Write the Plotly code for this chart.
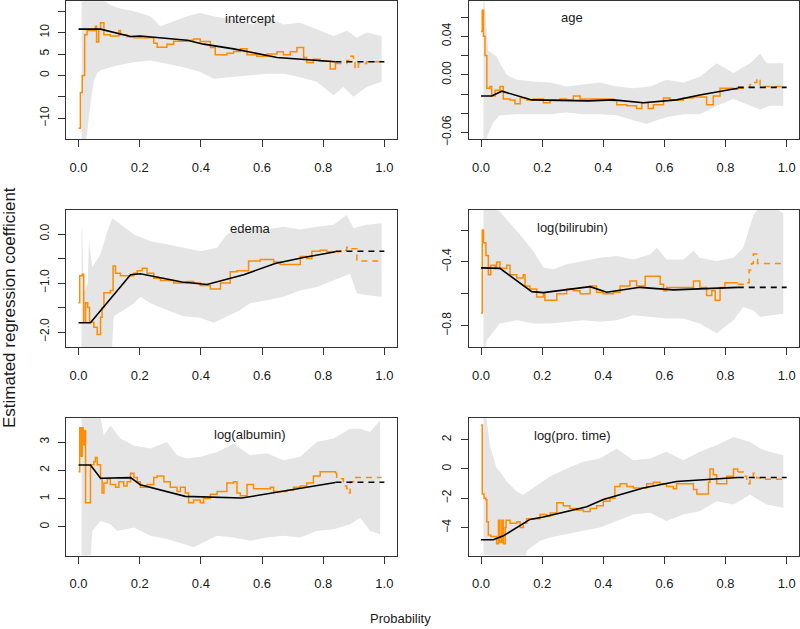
import plotly.graph_objects as go

# ---------------- data ----------------
panels = ["intercept", "age", "edema", "log(bilirubin)", "log(albumin)", "log(pro. time)"]

# intercept
int_up_x = [0.010, 0.072, 0.104, 0.126, 0.181, 0.235, 0.268, 0.311, 0.355, 0.398, 0.442, 0.507, 0.572, 0.616, 0.670, 0.725, 0.779, 0.834, 0.877, 0.910, 0.942, 0.991]
int_up = [20, 18, 16.5, 15.8, 15.0, 13.8, 11.5, 12.7, 13.8, 14.6, 13.8, 13.0, 11.9, 13.5, 11.9, 12.3, 10.8, 9.2, 10.4, 8.8, 10.0, 9.2]
int_lo_x = [0.010, 0.017, 0.028, 0.040, 0.050, 0.061, 0.072, 0.126, 0.181, 0.235, 0.289, 0.344, 0.398, 0.442, 0.507, 0.561, 0.616, 0.670, 0.725, 0.779, 0.834, 0.866, 0.899, 0.942, 0.991]
int_lo = [-20, -17, -13.5, -6, -1.2, 0.5, 1.2, 2.3, 3.1, 3.5, 2.7, 1.9, 0.8, -0.8, -0.4, 0, 0.4, 0.4, -0.4, -1.5, -4.6, -2.7, -5.0, -2.7, -1.5]
int_or_x = [0.000, 0.006, 0.012, 0.020, 0.028, 0.055, 0.059, 0.066, 0.072, 0.083, 0.104, 0.132, 0.137, 0.159, 0.181, 0.202, 0.246, 0.257, 0.289, 0.311, 0.355, 0.376, 0.398, 0.431, 0.447, 0.485, 0.507, 0.529, 0.551, 0.583, 0.616, 0.649, 0.670, 0.692, 0.714, 0.736, 0.746, 0.768, 0.790, 0.823, 0.840]
int_or = [-12.3, -4, 0, 9.5, 10.5, 11.5, 7.8, 10.7, 12.3, 9.5, 9.2, 10.5, 9.5, 9.0, 8.8, 8.8, 7.5, 6.6, 7.3, 8.0, 8.2, 8.5, 7.9, 6.5, 4.8, 5.2, 5.6, 6.2, 4.8, 4.5, 5.0, 5.5, 4.8, 5.5, 6.5, 4.2, 3.0, 3.8, 3.3, 1.5, 3.0]
int_ord_x = [0.840, 0.877, 0.888, 0.899, 0.904, 0.915, 0.942, 0.991]
int_ord = [2.8, 3.5, 4.5, 3.0, 1.5, 2.8, 3.2, 3.2]
int_bk_x = [0, 0.072, 0.170, 0.202, 0.355, 0.409, 0.507, 0.649, 0.840]
int_bk = [10.8, 10.8, 9.1, 9.2, 8.2, 7.3, 6.2, 4.2, 3.2]
int_bkd_x = [0.84, 1.0]
int_bkd = [3.2, 3.2]

# age
age_up_x = [0.008, 0.024, 0.051, 0.062, 0.084, 0.117, 0.171, 0.226, 0.280, 0.335, 0.389, 0.444, 0.498, 0.553, 0.607, 0.662, 0.716, 0.771, 0.826, 0.880, 0.913, 0.935, 0.989]
age_up = [0.09, 0.025, 0.019, 0.012, 0.0, -0.005, -0.007, -0.008, -0.012, -0.010, -0.008, -0.012, -0.014, -0.012, -0.005, -0.008, -0.002, 0.012, 0.002, 0.012, 0.022, 0.012, 0.012]
age_lo_x = [0.008, 0.021, 0.040, 0.062, 0.117, 0.171, 0.226, 0.280, 0.335, 0.389, 0.444, 0.498, 0.542, 0.575, 0.607, 0.662, 0.716, 0.771, 0.826, 0.880, 0.913, 0.945, 0.989]
age_lo = [-0.09, -0.063, -0.049, -0.042, -0.041, -0.041, -0.041, -0.039, -0.041, -0.041, -0.042, -0.047, -0.051, -0.047, -0.044, -0.041, -0.041, -0.032, -0.025, -0.032, -0.036, -0.032, -0.032]
age_or_x = [0.000, 0.004, 0.008, 0.013, 0.019, 0.029, 0.035, 0.046, 0.062, 0.073, 0.095, 0.111, 0.128, 0.149, 0.171, 0.204, 0.226, 0.258, 0.280, 0.302, 0.324, 0.346, 0.389, 0.433, 0.444, 0.477, 0.509, 0.526, 0.547, 0.564, 0.597, 0.618, 0.662, 0.695, 0.738, 0.760, 0.782, 0.826, 0.840]
age_or = [0.045, 0.067, 0.04, 0.02, -0.014, -0.012, -0.022, -0.016, -0.012, -0.025, -0.026, -0.030, -0.024, -0.026, -0.025, -0.029, -0.026, -0.025, -0.026, -0.022, -0.025, -0.025, -0.025, -0.027, -0.031, -0.032, -0.035, -0.029, -0.035, -0.031, -0.024, -0.026, -0.024, -0.023, -0.031, -0.022, -0.014, -0.015, -0.014]
age_ord_x = [0.840, 0.858, 0.880, 0.891, 0.902, 0.913, 0.989]
age_ord = [-0.014, -0.013, -0.010, -0.008, -0.004, -0.012, -0.012]
age_bk_x = [0, 0.035, 0.068, 0.166, 0.351, 0.433, 0.531, 0.640, 0.716, 0.840]
age_bk = [-0.022, -0.022, -0.017, -0.026, -0.027, -0.026, -0.029, -0.026, -0.021, -0.014]
age_bkd_x = [0.84, 1.0]
age_bkd = [-0.013, -0.013]

# edema
ede_up_x = [0.010, 0.012, 0.017, 0.030, 0.034, 0.045, 0.072, 0.094, 0.110, 0.126, 0.181, 0.235, 0.289, 0.344, 0.398, 0.453, 0.485, 0.507, 0.561, 0.616, 0.670, 0.725, 0.779, 0.834, 0.877, 0.899, 0.942, 0.991]
ede_up = [0.12, 0.12, -1.2, -1.0, -0.15, -0.68, -0.41, 0.05, 0.32, 0.25, -0.01, -0.15, -0.21, -0.28, -0.35, -0.28, -0.01, 0.05, 0.12, 0.09, 0.15, 0.09, 0.15, 0.19, 0.39, 0.12, 0.19, 0.22]
ede_lo_x = [0.010, 0.104, 0.115, 0.148, 0.181, 0.202, 0.235, 0.289, 0.344, 0.398, 0.442, 0.485, 0.529, 0.561, 0.616, 0.670, 0.725, 0.779, 0.834, 0.888, 0.910, 0.942, 0.991]
ede_lo = [-3, -3, -1.68, -1.55, -1.41, -1.28, -1.41, -1.55, -1.68, -1.71, -1.81, -1.68, -1.55, -1.41, -1.35, -1.28, -1.15, -1.08, -0.95, -0.81, -1.21, -1.25, -1.28]
ede_or_x = [0.000, 0.004, 0.012, 0.017, 0.023, 0.030, 0.036, 0.050, 0.061, 0.072, 0.077, 0.083, 0.104, 0.113, 0.121, 0.137, 0.159, 0.181, 0.192, 0.208, 0.224, 0.246, 0.268, 0.289, 0.311, 0.355, 0.376, 0.398, 0.431, 0.464, 0.496, 0.518, 0.556, 0.594, 0.638, 0.659, 0.703, 0.725, 0.746, 0.763, 0.790, 0.812, 0.840]
ede_or = [-1.4, -0.85, -0.82, -1.8, -1.4, -1.5, -1.8, -1.9, -2.05, -1.7, -1.5, -1.2, -1.15, -0.65, -0.8, -0.85, -0.85, -0.8, -0.75, -0.7, -0.8, -0.9, -0.95, -0.95, -1.0, -0.97, -1.0, -1.05, -1.12, -1.0, -0.77, -0.75, -0.55, -0.52, -0.57, -0.62, -0.62, -0.46, -0.5, -0.35, -0.33, -0.36, -0.36]
ede_ord_x = [0.840, 0.855, 0.877, 0.893, 0.910, 0.991]
ede_ord = [-0.36, -0.33, -0.27, -0.30, -0.55, -0.55]
ede_bk_x = [0, 0.039, 0.170, 0.202, 0.338, 0.420, 0.540, 0.643, 0.736, 0.840]
ede_bk = [-1.81, -1.81, -0.83, -0.81, -0.98, -1.03, -0.83, -0.60, -0.48, -0.36]
ede_bkd_x = [0.84, 1.0]
ede_bkd = [-0.35, -0.35]

# log(bilirubin)
bil_up_x = [0.008, 0.062, 0.095, 0.128, 0.171, 0.204, 0.237, 0.280, 0.335, 0.389, 0.444, 0.498, 0.553, 0.575, 0.607, 0.662, 0.695, 0.716, 0.771, 0.826, 0.858, 0.891, 0.924, 0.989]
bil_up = [-0.02, -0.085, -0.157, -0.229, -0.332, -0.435, -0.445, -0.414, -0.394, -0.373, -0.363, -0.384, -0.353, -0.311, -0.384, -0.384, -0.332, -0.373, -0.394, -0.373, -0.311, -0.105, -0.02, -0.095]
bil_lo_x = [0.008, 0.019, 0.062, 0.117, 0.171, 0.226, 0.280, 0.335, 0.389, 0.444, 0.498, 0.553, 0.607, 0.662, 0.716, 0.771, 0.826, 0.858, 0.891, 0.913, 0.989]
bil_lo = [-1.0, -0.89, -0.786, -0.765, -0.786, -0.786, -0.775, -0.765, -0.775, -0.765, -0.734, -0.744, -0.755, -0.755, -0.786, -0.847, -0.765, -0.682, -0.703, -0.744, -0.724]
bil_or_x = [0.000, 0.004, 0.008, 0.016, 0.024, 0.032, 0.046, 0.051, 0.062, 0.084, 0.095, 0.117, 0.138, 0.144, 0.160, 0.182, 0.204, 0.209, 0.248, 0.280, 0.302, 0.324, 0.357, 0.378, 0.400, 0.433, 0.455, 0.487, 0.509, 0.537, 0.586, 0.597, 0.607, 0.662, 0.695, 0.716, 0.738, 0.755, 0.766, 0.782, 0.798, 0.840]
bil_or = [-0.72, -0.20, -0.28, -0.36, -0.48, -0.42, -0.44, -0.40, -0.44, -0.42, -0.48, -0.50, -0.48, -0.55, -0.57, -0.62, -0.60, -0.64, -0.60, -0.57, -0.58, -0.60, -0.55, -0.59, -0.60, -0.59, -0.55, -0.52, -0.55, -0.49, -0.54, -0.58, -0.56, -0.56, -0.52, -0.56, -0.61, -0.58, -0.64, -0.56, -0.53, -0.53]
bil_ord_x = [0.840, 0.869, 0.877, 0.885, 0.891, 0.905, 0.989]
bil_ord = [-0.54, -0.53, -0.45, -0.41, -0.35, -0.41, -0.41]
bil_bk_x = [0, 0.062, 0.166, 0.204, 0.357, 0.411, 0.520, 0.629, 0.840]
bil_bk = [-0.437, -0.44, -0.586, -0.592, -0.555, -0.59, -0.559, -0.575, -0.559]
bil_bkd_x = [0.84, 1.0]
bil_bkd = [-0.559, -0.559]

# log(albumin)
alb_up_x = [0.010, 0.072, 0.083, 0.104, 0.137, 0.181, 0.235, 0.289, 0.322, 0.355, 0.398, 0.453, 0.507, 0.561, 0.616, 0.670, 0.725, 0.779, 0.834, 0.888, 0.921, 0.953, 0.986]
alb_up = [5, 3.87, 3.23, 3.58, 3.12, 2.88, 2.77, 3.0, 2.53, 2.42, 2.48, 2.65, 2.94, 2.53, 2.6, 2.36, 2.48, 3.0, 3.12, 3.47, 3.47, 3.35, 3.76]
alb_lo_x = [0.010, 0.034, 0.045, 0.072, 0.104, 0.126, 0.181, 0.235, 0.289, 0.344, 0.376, 0.398, 0.453, 0.507, 0.561, 0.616, 0.670, 0.725, 0.779, 0.834, 0.888, 0.921, 0.953, 0.986]
alb_lo = [-2, -2, -0.14, 0.21, 0.09, -0.14, -0.02, -0.31, -0.43, -0.6, -0.72, -0.6, -0.31, -0.37, -0.49, -0.37, -0.31, -0.37, -0.14, -0.08, 0.09, 0.33, -0.14, -0.26]
alb_or_x = [0.000, 0.004, 0.009, 0.012, 0.015, 0.020, 0.023, 0.039, 0.050, 0.055, 0.061, 0.072, 0.077, 0.083, 0.094, 0.104, 0.121, 0.132, 0.148, 0.159, 0.170, 0.181, 0.192, 0.202, 0.224, 0.246, 0.257, 0.279, 0.300, 0.322, 0.333, 0.349, 0.360, 0.376, 0.398, 0.409, 0.431, 0.453, 0.485, 0.507, 0.518, 0.529, 0.551, 0.572, 0.605, 0.627, 0.638, 0.681, 0.703, 0.725, 0.746, 0.768, 0.790, 0.840]
alb_or = [1.95, 3.5, 2.5, 3.5, 2.9, 3.4, 0.85, 2.2, 2.3, 2.45, 2.2, 1.7, 1.2, 1.55, 1.7, 1.5, 1.4, 1.6, 1.45, 1.6, 1.9, 1.75, 1.6, 1.4, 1.5, 1.75, 1.8, 1.6, 1.4, 1.25, 1.4, 1.2, 0.85, 0.95, 0.85, 1.0, 1.15, 1.25, 1.55, 1.6, 1.2, 1.1, 1.5, 1.35, 1.35, 1.4, 1.25, 1.3, 1.4, 1.45, 1.55, 1.8, 1.95, 1.9]
alb_ord_x = [0.840, 0.844, 0.866, 0.877, 0.882, 0.888, 0.899, 0.991]
alb_ord = [1.9, 1.7, 1.45, 1.35, 1.2, 1.6, 1.75, 1.75]
alb_bk_x = [0, 0.039, 0.072, 0.170, 0.202, 0.349, 0.534, 0.840]
alb_bk = [2.19, 2.19, 1.72, 1.74, 1.49, 1.08, 1.02, 1.57]
alb_bkd_x = [0.84, 1.0]
alb_bkd = [1.58, 1.58]

# log(pro. time)
pro_up_x = [0.008, 0.029, 0.051, 0.062, 0.084, 0.117, 0.138, 0.171, 0.226, 0.280, 0.335, 0.389, 0.444, 0.498, 0.553, 0.607, 0.662, 0.716, 0.771, 0.826, 0.880, 0.913, 0.945, 0.989]
pro_up = [5, 1.62, 0.04, -0.18, -0.85, -1.53, -1.75, -1.3, -0.52, 0.04, 0.49, 0.72, 1.39, 0.6, 0.72, 1.17, 0.6, 1.17, 1.62, 2.18, 1.84, 1.39, 1.17, 0.94]
pro_lo_x = [0.008, 0.138, 0.149, 0.193, 0.226, 0.280, 0.335, 0.389, 0.444, 0.498, 0.553, 0.607, 0.662, 0.716, 0.771, 0.826, 0.880, 0.935, 0.989]
pro_lo = [-8, -8, -5.57, -4.9, -4.67, -4.45, -4.22, -4.0, -3.55, -3.1, -2.99, -3.55, -3.1, -2.88, -2.2, -2.43, -1.75, -2.43, -2.65]
pro_or_x = [0.000, 0.004, 0.010, 0.016, 0.019, 0.024, 0.032, 0.040, 0.051, 0.057, 0.062, 0.068, 0.073, 0.079, 0.082, 0.095, 0.117, 0.128, 0.138, 0.149, 0.171, 0.193, 0.215, 0.226, 0.248, 0.269, 0.291, 0.313, 0.335, 0.357, 0.378, 0.400, 0.422, 0.438, 0.455, 0.477, 0.498, 0.520, 0.542, 0.564, 0.586, 0.607, 0.629, 0.640, 0.684, 0.695, 0.706, 0.727, 0.744, 0.749, 0.760, 0.771, 0.793, 0.804, 0.826, 0.840]
pro_or = [3.0, -1.7, -2.0, -2.1, -3.6, -4.5, -4.6, -4.6, -5.1, -3.5, -5.0, -3.5, -5.1, -4.0, -3.5, -3.7, -3.6, -4.0, -3.7, -3.4, -3.4, -3.1, -3.2, -3.0, -2.3, -2.5, -2.7, -2.8, -2.9, -2.7, -2.5, -2.2, -2.0, -1.2, -1.0, -1.2, -1.3, -1.3, -1.0, -0.9, -1.0, -1.2, -1.35, -1.0, -1.0, -1.4, -1.7, -1.7, -0.9, 0.0, -0.4, -1.0, -1.0, -0.5, 0.0, -0.2]
pro_ord_x = [0.840, 0.858, 0.869, 0.880, 0.891, 0.902, 0.913, 0.989]
pro_ord = [-0.2, -0.5, -1.0, -0.6, -0.3, -0.6, -0.7, -0.7]
pro_bk_x = [0, 0.040, 0.073, 0.160, 0.204, 0.346, 0.400, 0.531, 0.640, 0.840]
pro_bk = [-4.83, -4.83, -4.56, -3.44, -3.28, -2.58, -2.09, -1.3, -0.85, -0.58]
pro_bkd_x = [0.84, 1.0]
pro_bkd = [-0.58, -0.58]

x_ticks = [0, 0.2, 0.4, 0.6, 0.8, 1.0]
x_ticklabels = ["0.0", "0.2", "0.4", "0.6", "0.8", "1.0"]

y_ticks = [
    [-10, -5, 0, 5, 10, 15],
    [-0.06, -0.04, -0.02, 0.0, 0.02, 0.04, 0.06],
    [-2.0, -1.5, -1.0, -0.5, 0.0],
    [-0.8, -0.6, -0.4, -0.2],
    [0, 1, 2, 3],
    [-4, -2, 0, 2],
]
y_ticklabels = [
    ["\u221210", "", "0", "5", "10", ""],
    ["\u22120.06", "", "", "0.00", "", "0.04", ""],
    ["\u22122.0", "", "\u22121.0", "", "0.0"],
    ["\u22120.8", "", "\u22120.4", ""],
    ["0", "1", "2", "3"],
    ["\u22124", "\u22122", "0", "2"],
]
y_ranges = [
    [-14.84, 17.3],
    [-0.0666, 0.0763],
    [-2.308, 0.494],
    [-0.934, -0.073],
    [-1.012, 3.844],
    [-5.906, 3.468],
]

data = [
    (int_up_x, int_up, int_lo_x, int_lo, int_or_x, int_or, int_ord_x, int_ord, int_bk_x, int_bk, int_bkd_x, int_bkd),
    (age_up_x, age_up, age_lo_x, age_lo, age_or_x, age_or, age_ord_x, age_ord, age_bk_x, age_bk, age_bkd_x, age_bkd),
    (ede_up_x, ede_up, ede_lo_x, ede_lo, ede_or_x, ede_or, ede_ord_x, ede_ord, ede_bk_x, ede_bk, ede_bkd_x, ede_bkd),
    (bil_up_x, bil_up, bil_lo_x, bil_lo, bil_or_x, bil_or, bil_ord_x, bil_ord, bil_bk_x, bil_bk, bil_bkd_x, bil_bkd),
    (alb_up_x, alb_up, alb_lo_x, alb_lo, alb_or_x, alb_or, alb_ord_x, alb_ord, alb_bk_x, alb_bk, alb_bkd_x, alb_bkd),
    (pro_up_x, pro_up, pro_lo_x, pro_lo, pro_or_x, pro_or, pro_ord_x, pro_ord, pro_bk_x, pro_bk, pro_bkd_x, pro_bkd),
]

# ---------------- layout geometry ----------------
W, H = 800, 629
col_dom = [[66.3 / W, 396.6 / W], [468.8 / W, 798.9 / W]]
row_dom = [[1 - 139.8 / H, 0.9995], [1 - 350.6 / H, 1 - 211.5 / H], [1 - 561.7 / H, 1 - 422.5 / H]]
title_pos = [(250, 18), (572, 17), (250, 230), (572, 229), (250, 439), (572, 440)]

FONT = "Liberation Sans, Arial, Helvetica, sans-serif"
BAND = "#E5E5E5"
ORANGE = "#FF8C00"
AXC = "#333333"

fig = go.Figure()
layout = dict(
    width=W, height=H, margin=dict(l=0, r=0, t=0, b=0),
    paper_bgcolor="white", plot_bgcolor="white", showlegend=False,
    font=dict(family=FONT, size=13, color="#1a1a1a"),
)
annotations = []

for i, (ux, uy, lx, ly, ox, oy, odx, ody, bx, by, bdx, bdy) in enumerate(data):
    n = "" if i == 0 else str(i + 1)
    xa, ya = "x" + n, "y" + n
    r, c = divmod(i, 2)
    fig.add_trace(go.Scatter(x=ux + lx[::-1], y=uy + ly[::-1], fill="toself", fillcolor=BAND,
                             line=dict(width=0), mode="lines", hoverinfo="skip", xaxis=xa, yaxis=ya))
    fig.add_trace(go.Scatter(x=ox, y=oy, mode="lines", line=dict(color=ORANGE, width=1.5, shape="hv"),
                             xaxis=xa, yaxis=ya))
    fig.add_trace(go.Scatter(x=odx, y=ody, mode="lines",
                             line=dict(color=ORANGE, width=1.5, shape="hv", dash="6px,5px"),
                             xaxis=xa, yaxis=ya))
    fig.add_trace(go.Scatter(x=bx, y=by, mode="lines", line=dict(color="black", width=1.6),
                             xaxis=xa, yaxis=ya))
    fig.add_trace(go.Scatter(x=bdx, y=bdy, mode="lines", line=dict(color="black", width=1.6, dash="6px,5px"),
                             xaxis=xa, yaxis=ya))

    layout["xaxis" + n] = dict(
        domain=col_dom[c], anchor=ya, range=[-0.04, 1.04],
        tickvals=x_ticks, ticktext=x_ticklabels, ticks="outside", ticklen=7, tickwidth=1, tickcolor=AXC,
        showline=True, mirror=True, linecolor=AXC, linewidth=1, showgrid=False, zeroline=False,
        ticklabelstandoff=9, tickfont=dict(size=13, family=FONT),
    )
    layout["yaxis" + n] = dict(
        domain=row_dom[r], anchor=xa, range=y_ranges[i],
        tickvals=y_ticks[i], ticktext=y_ticklabels[i], ticks="outside", ticklen=7, tickwidth=1, tickcolor=AXC,
        showline=True, mirror=True, linecolor=AXC, linewidth=1, showgrid=False, zeroline=False,
        tickangle=-90, ticklabelstandoff=5, tickfont=dict(size=12, family=FONT),
    )
    tx, ty = title_pos[i]
    annotations.append(dict(text=panels[i], x=tx / W, y=1 - ty / H, xref="paper", yref="paper",
                            showarrow=False, xanchor="center", yanchor="middle",
                            font=dict(size=13, family=FONT, color="#1a1a1a")))

annotations.append(dict(text="Probability", x=400 / W, y=1 - 625 / H, xref="paper", yref="paper",
                        showarrow=False, xanchor="center", yanchor="middle", font=dict(size=13, family=FONT)))
annotations.append(dict(text="Estimated regression coefficient", x=9 / W, y=1 - 311 / H, xref="paper", yref="paper",
                        showarrow=False, xanchor="center", yanchor="middle", textangle=-90,
                        font=dict(size=17, family=FONT)))
layout["annotations"] = annotations
fig.update_layout(**layout)
fig.write_html("out.html", config={"displayModeBar": False, "staticPlot": True},
               post_script="document.body.style.margin='0';document.body.style.padding='0';"
                           "document.body.style.overflow='hidden';")
